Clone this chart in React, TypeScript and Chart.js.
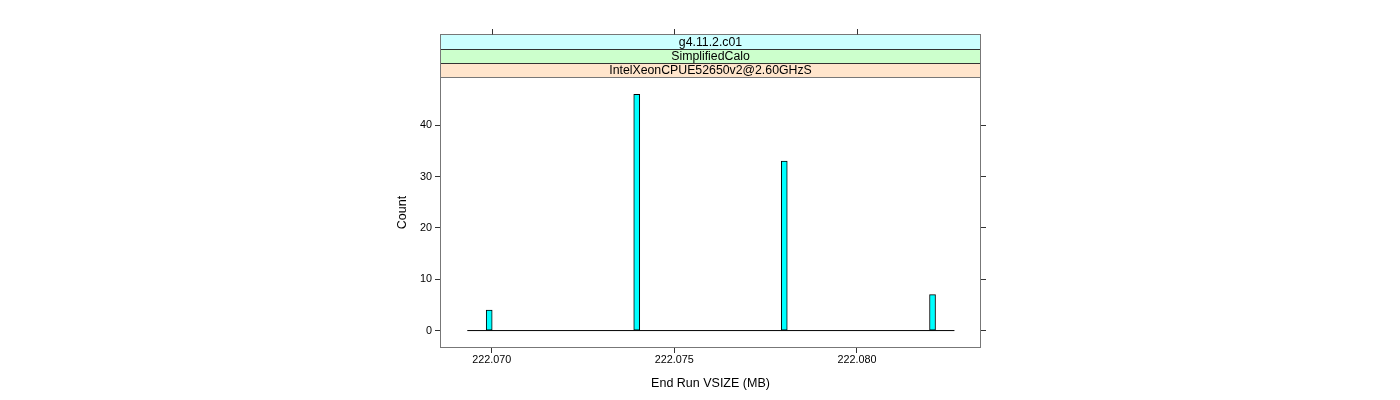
import React, { useEffect, useRef } from 'react';
import { Chart, registerables } from 'chart.js';

Chart.register(...registerables);

// ---- data ----
const stripLabels = ['g4.11.2.c01', 'SimplifiedCalo', 'IntelXeonCPUE52650v2@2.60GHzS'];
const stripColors = ['#ccffff', '#ccffcc', '#ffe5cc'];
const binCenters = [222.06993, 222.07397, 222.07801, 222.08207];
const counts = [4, 46, 33, 7];
const binRange = [222.06933, 222.08267];
const xTicks = [222.07, 222.075, 222.08];
const yTicks = [0, 10, 20, 30, 40];
const xLimits = [222.06861, 222.08337];
const yLimits = [-3.2, 49.2];
const xTitle = 'End Run VSIZE (MB)';
const yTitle = 'Count';

const FONT = "'Liberation Sans', Arial, Helvetica, sans-serif";

const stripPlugin = {
  id: 'latticeStrips',
  afterDraw(chart: any) {
    const { ctx, chartArea: a, scales } = chart;
    const x = scales.x;
    const L = Math.round(a.left) - 0.5;
    const R = Math.round(a.right) + 0.5;
    const B = Math.round(a.bottom) + 0.5;
    const bounds = [34.5, 49.5, 63.5, 77.5];
    ctx.save();
    // strips
    for (let i = 0; i < 3; i++) {
      ctx.fillStyle = stripColors[i];
      ctx.fillRect(L, bounds[i], R - L, bounds[i + 1] - bounds[i]);
    }
    ctx.lineWidth = 1;
    ctx.strokeStyle = '#333';
    for (let i = 1; i < 3; i++) {
      ctx.beginPath();
      ctx.moveTo(L, bounds[i]);
      ctx.lineTo(R, bounds[i]);
      ctx.stroke();
    }
    ctx.fillStyle = '#000';
    ctx.font = `12.3px ${FONT}`;
    ctx.textAlign = 'center';
    ctx.textBaseline = 'middle';
    for (let i = 0; i < 3; i++) {
      ctx.fillText(stripLabels[i], (L + R) / 2, (bounds[i] + bounds[i + 1]) / 2 + 0.5);
    }
    // outer borders
    ctx.strokeStyle = '#777';
    ctx.strokeRect(L, bounds[0], R - L, bounds[3] - bounds[0]);
    ctx.strokeRect(L, bounds[3], R - L, B - bounds[3]);
    // top ticks
    ctx.strokeStyle = '#333';
    for (const v of xTicks) {
      const px = Math.round(x.getPixelForValue(v)) + 0.5;
      ctx.beginPath();
      ctx.moveTo(px, 29);
      ctx.lineTo(px, bounds[0]);
      ctx.stroke();
    }
    ctx.restore();
  },
};

export default function App() {
  const ref = useRef<HTMLCanvasElement | null>(null);

  useEffect(() => {
    if (!ref.current) return;
    Chart.defaults.font.family = FONT;
    Chart.defaults.color = '#000';
    const chart = new Chart(ref.current, {
      type: 'bar',
      data: {
        datasets: [
          {
            type: 'bar',
            data: binCenters.map((x, i) => ({ x, y: counts[i] })),
            backgroundColor: '#00ffff',
            borderColor: '#000',
            borderWidth: 1,
            borderSkipped: false,
            barThickness: 6,
            order: 2,
          } as any,
          {
            type: 'line',
            data: binRange.map((x) => ({ x, y: 0 })),
            borderColor: '#000',
            borderWidth: 1,
            pointRadius: 0,
            order: 1,
          } as any,
        ],
      },
      options: {
        animation: false,
        responsive: false,
        devicePixelRatio: 1,
        layout: { padding: { left: 395, right: 400, top: 78, bottom: 9 } },
        plugins: { legend: { display: false }, tooltip: { enabled: false } },
        scales: {
          x: {
            type: 'linear',
            position: 'bottom',
            min: xLimits[0],
            max: xLimits[1],
            offset: false,
            afterBuildTicks: (s: any) => {
              s.ticks = xTicks.map((value) => ({ value }));
            },
            afterFit: (s: any) => {
              s.height = 44;
            },
            ticks: {
              autoSkip: false,
              maxRotation: 0,
              padding: 1,
              font: { size: 10.8 },
              callback: (v: any) => Number(v).toFixed(3),
            },
            grid: { drawOnChartArea: false, drawTicks: true, tickLength: 6, color: '#333', offset: false },
            border: { display: false },
            title: { display: true, text: xTitle, font: { size: 12.5 }, padding: 0 },
          },
          y: {
            position: 'left',
            min: yLimits[0],
            max: yLimits[1],
            afterBuildTicks: (s: any) => {
              s.ticks = yTicks.map((value) => ({ value }));
            },
            afterFit: (s: any) => {
              s.width = 46;
            },
            ticks: { padding: 3, font: { size: 10.8 } },
            grid: { drawOnChartArea: false, drawTicks: true, tickLength: 6, color: '#333' },
            border: { display: false },
            title: { display: true, text: yTitle, font: { size: 12.5 }, padding: 0 },
          },
          y2: {
            position: 'right',
            min: yLimits[0],
            max: yLimits[1],
            afterBuildTicks: (s: any) => {
              s.ticks = yTicks.map((value) => ({ value }));
            },
            afterFit: (s: any) => {
              s.width = 20;
            },
            ticks: { display: false },
            grid: { drawOnChartArea: false, drawTicks: true, tickLength: 6, color: '#333' },
            border: { display: false },
          },
        },
      },
      plugins: [stripPlugin],
    } as any);
    return () => chart.destroy();
  }, []);

  return (
    <div style={{ position: 'absolute', left: 0, top: 0, width: 1400, height: 400, background: '#fff' }}>
      <canvas ref={ref} width={1400} height={400} style={{ width: 1400, height: 400, display: 'block' }} />
    </div>
  );
}
